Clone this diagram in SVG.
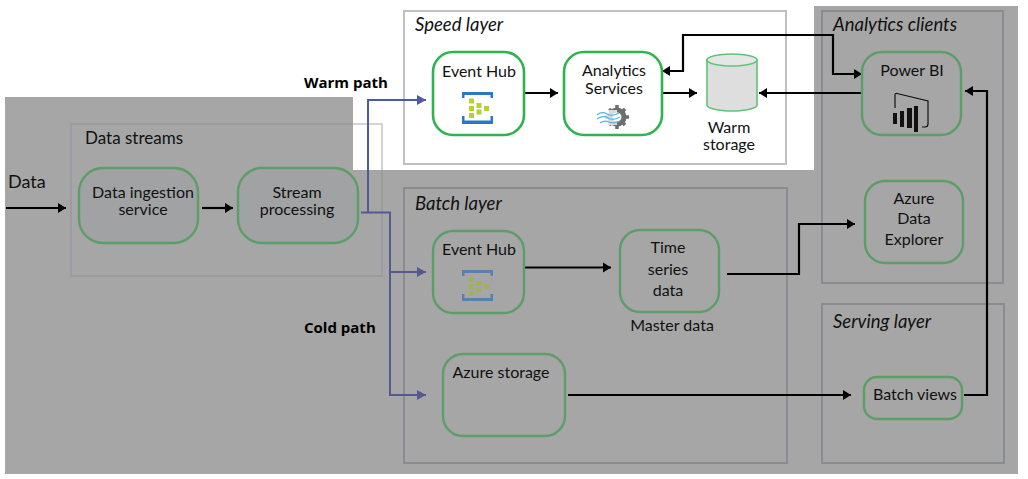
<svg xmlns="http://www.w3.org/2000/svg" width="1028" height="479" viewBox="0 0 1028 479">
<style>
text{font-family:"Lato","Noto Sans","Liberation Sans",sans-serif;font-size:16px;fill:#111}
.m{text-anchor:middle}
.i{font-style:italic;font-size:18.500px}
.b{font-family:"Open Sans","Noto Sans",sans-serif;font-weight:700;font-size:15px;fill:#000}
.box{fill:none;stroke-width:2}
.bl{stroke:#bfc0c4}
.bd{stroke:#8b8c91}
.bs{stroke:#9b9ca1}
.bw{stroke:#d4d4d6}
.nl{fill:#fff;stroke:#2fb350;stroke-width:2.6}
.nd{fill:#a6a6a6;stroke:#5c9e66;stroke-width:2.4}
.ns{fill:#a1a2a4;stroke:#5c9e66;stroke-width:2.4}
.k{fill:none;stroke:#000;stroke-width:2.2}
.u{fill:none;stroke:#4a5aa8;stroke-width:2}
.ud{fill:none;stroke:#56598f;stroke-width:2}
</style>
<defs>
<marker id="ak" markerUnits="userSpaceOnUse" markerWidth="10" markerHeight="12" refX="9" refY="6" orient="auto-start-reverse"><path d="M1 1L9 6L1 11Z" fill="#000"/></marker>
<marker id="au" markerUnits="userSpaceOnUse" markerWidth="10" markerHeight="12" refX="9" refY="6" orient="auto"><path d="M0 1L9 6L0 11Z" fill="#4a5aa8"/></marker>
<marker id="ad" markerUnits="userSpaceOnUse" markerWidth="10" markerHeight="12" refX="9" refY="6" orient="auto"><path d="M0 1L9 6L0 11Z" fill="#56598f"/></marker>
</defs>
<rect width="1028" height="479" fill="#fff"/>
<path d="M5 97H353V170H814V6H1018V474H5Z" fill="#a6a6a6"/>
<g id="data-streams"><path class="box bs" d="M353 124H71V276H382V170"/><path class="box bw" d="M353 124H382V170"/><text x="85" y="144" style="font-size:17px">Data streams</text></g>
<g id="speed-layer"><rect class="box bl" x="404" y="11" width="382" height="153"/><text class="i" x="415" y="31">Speed layer</text></g>
<g id="batch-layer"><rect class="box bd" x="404" y="188" width="383" height="275"/><text class="i" x="415" y="210">Batch layer</text></g>
<g id="analytics-clients"><rect class="box bd" x="822" y="11" width="181" height="272"/><text class="i" x="833" y="31">Analytics clients</text></g>
<g id="serving-layer"><rect class="box bd" x="822" y="304" width="182" height="159"/><text class="i" x="833" y="328">Serving layer</text></g>
<g id="data-label"><text x="8" y="188" style="font-size:18px">Data</text></g>
<g id="warm-path-label"><text class="b" x="304" y="88">Warm path</text></g>
<g id="cold-path-label"><text class="b" x="304" y="333">Cold path</text></g>
<g id="connectors">
<path class="k" d="M6 208H66" marker-end="url(#ak)"/>
<path class="k" d="M202 208H233" marker-end="url(#ak)"/>
<path class="ud" d="M361 212.500H390V395H426" marker-end="url(#ad)"/>
<path class="ud" d="M390 272H426" marker-end="url(#ad)"/>
<path class="ud" d="M368 212V170"/>
<path class="u" d="M368 170V100H426" marker-end="url(#au)"/>
<path class="k" d="M524 93H558" marker-end="url(#ak)"/>
<path class="k" d="M663 93H697" marker-end="url(#ak)"/>
<path class="k" d="M862 93H759" marker-end="url(#ak)"/>
<path class="k" d="M662 71H683V35H833V74H862" marker-start="url(#ak)" marker-end="url(#ak)"/>
<path class="k" d="M964 395H987V91H965" marker-end="url(#ak)"/>
<path class="k" d="M524 267.500H611" marker-end="url(#ak)"/>
<path class="k" d="M727 274H799V224H855" marker-end="url(#ak)"/>
<path class="k" d="M568 395H851" marker-end="url(#ak)"/>
</g>
<g id="data-ingestion"><rect class="ns" x="79" y="168" width="119" height="75" rx="24"/><text class="m" x="143" y="198">Data ingestion</text><text class="m" x="143" y="215">service</text></g>
<g id="stream-processing"><rect class="ns" x="238" y="168" width="120" height="75" rx="24"/><text class="m" x="297" y="198">Stream</text><text class="m" x="297" y="215">processing</text></g>
<g id="event-hub-speed"><rect class="nl" x="433" y="52" width="91" height="83" rx="20"/><text class="m" x="479" y="77">Event Hub</text>
<path d="M462 92H493V98H490.500V95H464.500V98H462ZM462 124H493V116H490.500V120.500H464.500V116H462Z" fill="#2a78c2"/><path d="M469 98.500h5v5h-5zM469 106h5v5h-5zM469 113h5v5h-5zM476.500 103h5v5h-5zM476.500 109.500h5v5h-5zM484 106h5v5h-5z" fill="#b6d22f"/></g>
<g id="analytics-services"><rect class="nl" x="564" y="52" width="98" height="83" rx="20"/><text class="m" x="614" y="76">Analytics</text><text class="m" x="614" y="94">Services</text>
<circle cx="617" cy="117" r="7" fill="none" stroke="#6e6e6e" stroke-width="5"/><path d="M617 105v4M617 125v4M605 117h4M625 117h4M609 109l3 3M625 109l-3 3M609 125l3-3M625 125l-3-3" stroke="#6e6e6e" stroke-width="3.500"/><rect x="597" y="110" width="20" height="15" fill="#fff" fill-opacity=".75"/><path d="M597 115q5-4 10-1t12-1M597 119q6-4 11-1t12-1M600 123q5-3 9-1t11-1" fill="none" stroke="#4fb8e8" stroke-width="1.200"/></g>
<g id="warm-storage"><path d="M707 60V105A25 6 0 0 0 757 105V60Z" fill="#dedede" stroke="#5fc377" stroke-width="1.600"/><ellipse cx="732" cy="60" rx="25" ry="6" fill="#e6e6e6" stroke="#5fc377" stroke-width="1.600"/><text class="m" x="729" y="133">Warm</text><text class="m" x="729" y="150">storage</text></g>
<g id="power-bi"><rect class="nd" x="862" y="52" width="99" height="83" rx="20"/><text class="m" x="912" y="76">Power BI</text>
<path d="M895 108V95Q895 93 897 93.500L928 101V124Q928 127 925 127H922" fill="none" stroke="#111" stroke-width="1.200"/><path d="M893 113h4v11h-4zM900 111h4v16h-4zM907 108h5v20h-5zM914 106h4v26h-4z" fill="#111"/></g>
<g id="azure-data-explorer"><rect class="nd" x="865" y="181" width="98" height="82" rx="20"/><text class="m" x="914" y="204">Azure</text><text class="m" x="914" y="224">Data</text><text class="m" x="914" y="245">Explorer</text></g>
<g id="event-hub-batch"><rect class="nd" x="433" y="231" width="91" height="82" rx="20"/><text class="m" x="479" y="255">Event Hub</text>
<path d="M462 270H493V276H490.500V273H464.500V276H462ZM462 301H493V294H490.500V298H464.500V294H462Z" fill="#5a80ab"/><path d="M469 277h4.500v5h-4.500zM469 284h4.500v5h-4.500zM469 291h4.500v5h-4.500zM476.500 281h5v5h-5zM476.500 287.500h5v5h-5zM484 284h5v5h-5z" fill="#a3b05a"/></g>
<g id="time-series"><rect class="nd" x="620" y="230" width="99" height="82" rx="20"/><text class="m" x="668" y="253">Time</text><text class="m" x="668" y="275">series</text><text class="m" x="668" y="296">data</text><text class="m" x="672" y="331">Master data</text></g>
<g id="azure-storage"><rect class="nd" x="443" y="354" width="122" height="82" rx="20"/><text class="m" x="501" y="378">Azure storage</text></g>
<g id="batch-views"><rect class="nd" x="864" y="377" width="98" height="42" rx="13"/><text class="m" x="915" y="400">Batch views</text></g>
</svg>
